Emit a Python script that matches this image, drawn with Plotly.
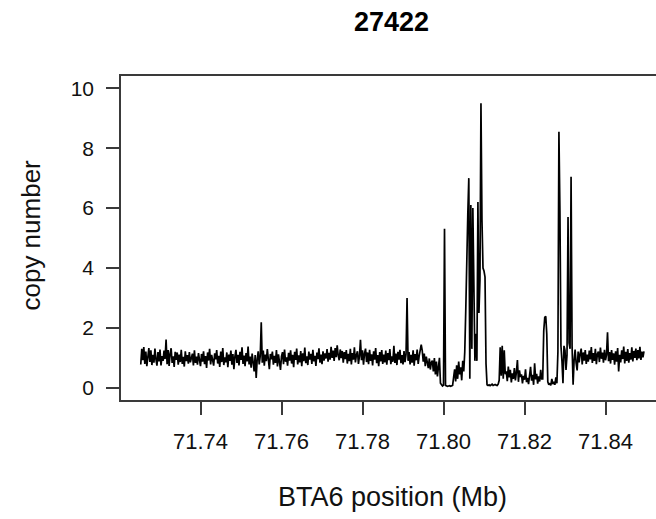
import plotly.graph_objects as go

# Copy-number profile along BTA6, one value per 250 bp window
BIN_START_MB = 71.72525
BIN_STEP_MB = 0.00025

COPY_NUMBER = [
    # 71.7253 - 71.79 : diploid background
    0.78, 1.30, 0.92, 1.36, 0.80, 1.21, 0.72, 1.12, 1.33, 0.86, 1.25, 0.76,
    1.10, 0.84, 1.31, 0.95, 0.74, 1.19, 0.88, 1.28, 0.75, 1.06, 0.90, 1.24,
    0.96, 1.61, 0.79, 1.26, 0.73, 1.14, 1.32, 0.83, 1.05, 0.70, 1.20, 0.93,
    1.18, 0.77, 1.11, 0.86, 1.27, 0.80, 1.03, 0.71, 1.22, 0.89, 1.09, 0.81,
    1.19, 0.85, 0.98, 1.14, 0.75, 1.25, 0.83, 1.04, 0.77, 1.16, 0.93, 0.72,
    1.13, 0.87, 1.22, 0.79, 1.06, 0.66, 1.18, 0.91, 1.30, 0.78, 1.10, 0.84,
    0.74, 1.15, 0.95, 1.26, 0.81, 1.07, 0.70, 1.21, 0.86, 1.33, 0.76, 1.02,
    0.85, 1.18, 0.69, 1.11, 0.90, 1.24, 0.77, 1.13, 0.62, 1.05, 1.27, 0.83,
    1.10, 0.75, 1.20, 0.93, 1.35, 0.80, 1.08, 0.72, 1.16, 0.88, 1.38, 0.78,
    1.04, 0.67, 1.14, 0.85, 0.55, 1.09, 0.33, 0.96, 1.22, 0.78, 1.06, 2.19,
    0.84, 1.24, 0.74, 1.11, 0.89, 1.29, 0.80, 0.62, 1.13, 0.95, 1.21, 0.77,
    1.07, 0.83, 1.26, 0.71, 1.12, 0.88, 0.60, 1.05, 1.19, 0.79, 1.28, 0.87,
    1.02, 0.74, 1.17, 0.91, 1.25, 0.81, 1.10, 0.69, 1.20, 0.93, 1.31, 0.78,
    1.08, 0.85, 1.23, 0.72, 1.15, 0.89, 1.34, 0.82, 1.05, 0.76, 1.21, 0.94,
    1.13, 0.80, 1.27, 0.88, 1.07, 0.73, 1.18, 0.96, 1.32, 0.84, 1.11, 0.79,
    1.22, 0.91, 1.15, 0.98, 1.29, 0.87, 1.17, 0.94, 1.37, 1.00, 1.24, 0.90,
    1.33, 1.02, 1.42, 1.08, 0.92, 1.28, 0.99, 1.23, 0.84, 1.19, 0.96, 1.26,
    0.81, 1.13, 0.89, 1.30, 0.78, 1.16, 0.94, 1.35, 0.85, 1.10, 1.22, 0.80,
    1.06, 1.60, 0.92, 1.25, 0.77, 1.15, 1.31, 0.86, 1.18, 0.79, 1.27, 0.90,
    1.12, 0.75, 1.22, 0.94, 1.33, 0.82, 1.09, 0.72, 1.19, 0.88, 1.26, 0.80,
    1.11, 0.85, 1.24, 0.77, 1.16, 0.92, 1.29, 0.79, 1.05, 0.87, 1.40, 0.83,
    1.14, 0.76, 1.20, 0.94, 1.27, 0.82, 1.09, 0.78, 1.23, 0.86, 1.12, 3.00,
    0.90, 1.19, 0.78, 1.10, 0.84, 1.25, 0.74, 1.13, 0.92, 1.28, 0.80, 1.07,
    1.34, 1.44, 1.24, 0.87, 1.14, 0.72, 1.04, 0.79, 0.66, 0.98, 0.61, 0.85,
    0.91, 0.55, 0.99, 0.45, 0.88, 0.38, 0.74, 1.00, 0.15, 0.08, 0.06, 0.09,
    # 71.80 - 71.812 : first amplified block
    5.31,
    0.08, 0.06, 0.05, 0.06, 0.07, 0.05, 0.06, 0.08,
    0.35, 0.62, 0.21, 0.75, 0.30, 0.88, 0.45, 0.68, 0.25, 0.90,
    0.55, 1.20, 2.60, 4.80, 5.80, 7.00, 0.30, 6.10, 1.30, 6.00, 2.10, 0.90,
    1.80, 0.90, 6.20, 2.50, 3.60, 9.50, 5.60, 4.00, 3.90, 3.70, 0.80, 0.10,
    0.08, 0.10, 0.07, 0.09, 0.12, 0.08, 0.10, 0.11, 0.09, 0.08, 0.12,
    0.25, 1.35, 0.40, 1.40, 0.30, 1.25, 0.45,
    # 71.815 - 71.825 : reduced copy number
    0.55, 0.22, 0.71, 0.35, 0.60, 0.18, 0.48, 0.30, 0.66, 0.25, 0.52, 0.93,
    0.20, 0.58, 0.36, 0.45, 0.15, 0.40, 0.27, 0.62, 0.19, 0.33, 0.12, 0.50,
    0.70, 0.24, 0.43, 0.10, 0.82, 0.28, 0.47, 0.14, 0.38, 0.21, 0.60, 0.30,
    0.30, 1.90, 2.35, 2.39, 1.80, 0.20,
    0.10, 0.15, 0.08, 0.30, 0.12, 0.20, 0.10, 0.35, 0.15,
    # 71.828 - 71.832 : second amplified block
    1.20, 8.55, 5.90, 1.40, 0.90, 0.15, 1.40, 1.25, 0.60, 1.10, 5.70, 1.50,
    1.30, 7.05, 1.40, 0.10,
    # 71.832 - 71.8495 : back to background
    0.92, 1.28, 0.82, 0.58, 1.21, 0.85, 1.14, 1.31, 0.78, 1.18, 0.91, 1.26,
    0.80, 1.11, 0.87, 1.24, 0.95, 1.36, 0.83, 1.16, 0.90, 1.30, 0.79, 1.13,
    1.21, 0.86, 1.34, 0.97, 1.18, 0.84, 1.27, 0.92, 1.10, 1.85, 0.89, 1.19,
    0.81, 1.26, 0.93, 1.15, 0.77, 1.22, 0.87, 1.33, 0.55, 1.10, 0.85, 1.25,
    0.96, 1.38, 0.81, 1.20, 0.90, 1.29, 0.84, 1.16, 0.94, 1.35, 0.88, 1.23,
    1.00, 1.31, 0.92, 1.26, 0.98, 1.37, 0.93, 1.21, 1.02, 1.22,
]

POSITION_MB = [BIN_START_MB + i * BIN_STEP_MB for i in range(len(COPY_NUMBER))]

X_TICKS = [71.74, 71.76, 71.78, 71.80, 71.82, 71.84]
X_TICK_LABELS = ["71.74", "71.76", "71.78", "71.80", "71.82", "71.84"]
Y_TICKS = [0, 2, 4, 6, 8, 10]

TITLE = "27422"
X_LABEL = "BTA6 position (Mb)"
Y_LABEL = "copy number"

FONT = "Liberation Sans, Arial, Helvetica, sans-serif"
AXIS_COLOR = "#3a3a3a"

fig = go.Figure(
    go.Scatter(
        x=POSITION_MB,
        y=COPY_NUMBER,
        mode="lines",
        line=dict(color="black", width=1.7),
        hoverinfo="skip",
    )
)

fig.update_layout(
    width=656,
    height=519,
    margin=dict(l=121, r=0, t=76, b=119),
    paper_bgcolor="white",
    plot_bgcolor="white",
    showlegend=False,
    font=dict(family=FONT, color="black"),
    xaxis=dict(
        range=[71.72037, 71.85247],
        tickvals=X_TICKS,
        ticktext=X_TICK_LABELS,
        ticks="outside",
        ticklen=13,
        tickwidth=1.5,
        tickcolor=AXIS_COLOR,
        tickfont=dict(size=22, family=FONT, color="#111"),
        showline=True,
        mirror=True,
        linecolor=AXIS_COLOR,
        linewidth=1.6,
        showgrid=False,
        zeroline=False,
        ticklabelstandoff=8,
    ),
    yaxis=dict(
        range=[-0.407, 10.41],
        tickvals=Y_TICKS,
        ticks="outside",
        ticklen=13,
        tickwidth=1.5,
        tickcolor=AXIS_COLOR,
        tickfont=dict(size=21, family=FONT, color="#111"),
        showline=True,
        mirror=False,
        linecolor=AXIS_COLOR,
        linewidth=1.6,
        showgrid=False,
        zeroline=False,
        ticklabelstandoff=8,
    ),
    annotations=[
        dict(
            text=f"<b>{TITLE}</b>", xref="paper", yref="paper",
            x=0.5065, y=1.168, xanchor="center", yanchor="middle",
            showarrow=False, font=dict(size=27, family=FONT, color="black"),
        ),
        dict(
            text=X_LABEL, xref="paper", yref="paper",
            x=0.5075, y=-0.298, xanchor="center", yanchor="middle",
            showarrow=False, font=dict(size=27, family=FONT, color="#111"),
        ),
        dict(
            text=Y_LABEL, xref="paper", yref="paper",
            x=-0.168, y=0.508, xanchor="center", yanchor="middle",
            textangle=-90, showarrow=False,
            font=dict(size=26, family=FONT, color="#111"),
        ),
    ],
)

fig.write_html("out.html")
